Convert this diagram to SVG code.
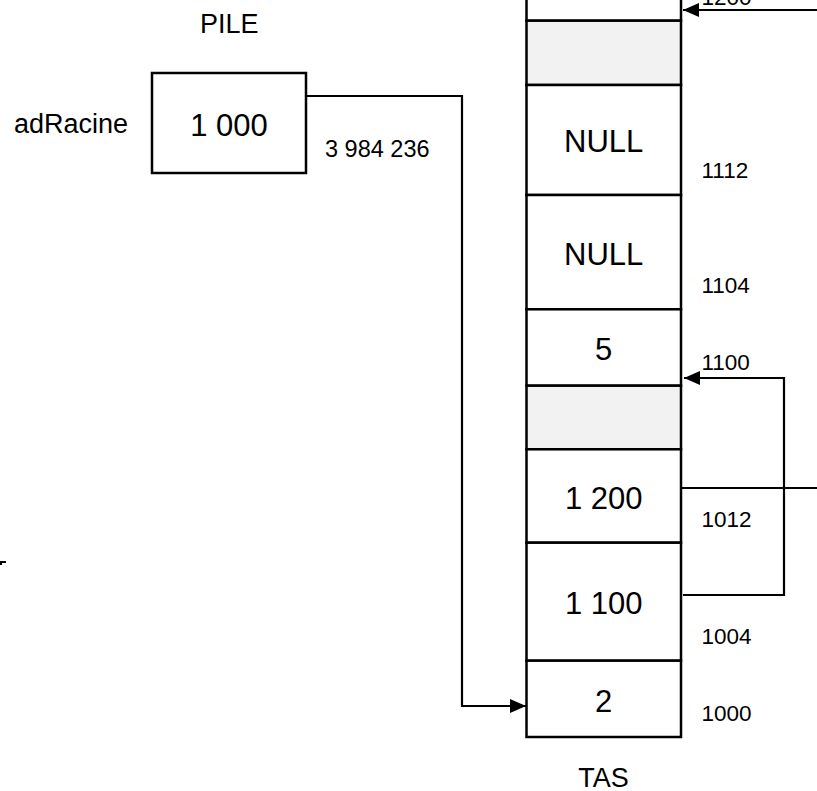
<svg xmlns="http://www.w3.org/2000/svg" width="817" height="791" viewBox="0 0 817 791">
<style>
text{font-family:"Liberation Sans",Arial,sans-serif;fill:#000}
.big{font-size:31px;text-anchor:middle}
.med{font-size:27px}
.small{font-size:22.5px}
.cell{fill:#fff;stroke:#000;stroke-width:2.5}
.grey{fill:#f2f2f2;stroke:#000;stroke-width:2.5}
.ln{fill:none;stroke:#000;stroke-width:2.2}
</style>
<defs>
<marker id="arr" markerWidth="16" markerHeight="14" refX="16" refY="7" orient="auto" markerUnits="userSpaceOnUse">
<path d="M0,0 L16,7 L0,14 Z" fill="#000"/>
</marker>
</defs>
<rect width="817" height="791" fill="#fff"/>

<text class="med" x="200" y="33">PILE</text>
<text class="med" x="14" y="133">adRacine</text>
<g id="pile-adRacine">
<rect class="cell" x="152" y="73" width="154" height="100"/>
<text class="big" x="229" y="136">1 000</text>
</g>
<text class="small" x="325" y="157" style="font-size:23.5px">3 984 236</text>

<g id="tas">
<g id="cell-1200"><rect class="cell" x="526.5" y="-5" width="154.5" height="25.7"/></g>
<g id="cell-grey1"><rect class="grey" x="526.5" y="20.7" width="154.5" height="64.3"/></g>
<g id="cell-1112"><rect class="cell" x="526.5" y="85" width="154.5" height="110"/><text class="big" x="603.7" y="152">NULL</text></g>
<g id="cell-1104"><rect class="cell" x="526.5" y="195" width="154.5" height="114.3"/><text class="big" x="603.7" y="265">NULL</text></g>
<g id="cell-1100"><rect class="cell" x="526.5" y="309.3" width="154.5" height="76.4"/><text class="big" x="603.7" y="360">5</text></g>
<g id="cell-grey2"><rect class="grey" x="526.5" y="385.7" width="154.5" height="63.6"/></g>
<g id="cell-1012"><rect class="cell" x="526.5" y="449.3" width="154.5" height="93.4"/><text class="big" x="603.7" y="509">1 200</text></g>
<g id="cell-1004"><rect class="cell" x="526.5" y="542.7" width="154.5" height="118"/><text class="big" x="603.7" y="614">1 100</text></g>
<g id="cell-1000"><rect class="cell" x="526.5" y="660.7" width="154.5" height="76.3"/><text class="big" x="603.7" y="712">2</text></g>
</g>

<text class="small" x="701.5" y="5">1200</text>
<text class="small" x="701.5" y="178">1112</text>
<text class="small" x="701.5" y="292.5">1104</text>
<text class="small" x="701.5" y="370">1100</text>
<text class="small" x="701.5" y="527">1012</text>
<text class="small" x="701.5" y="644">1004</text>
<text class="small" x="701.5" y="721">1000</text>
<text class="med" x="603.5" y="787" text-anchor="middle">TAS</text>

<g id="connectors">
<path class="ln" d="M306,96 H462 V706 H526" marker-end="url(#arr)"/>
<path class="ln" d="M817,10 H683" marker-end="url(#arr)"/>
<path class="ln" d="M683,595 H784 V378 H684" marker-end="url(#arr)"/>
<path class="ln" d="M681,488 H817"/>
</g>
<path d="M0,561 H6 V563 H2 V565 H0 Z" fill="#000"/>
</svg>
